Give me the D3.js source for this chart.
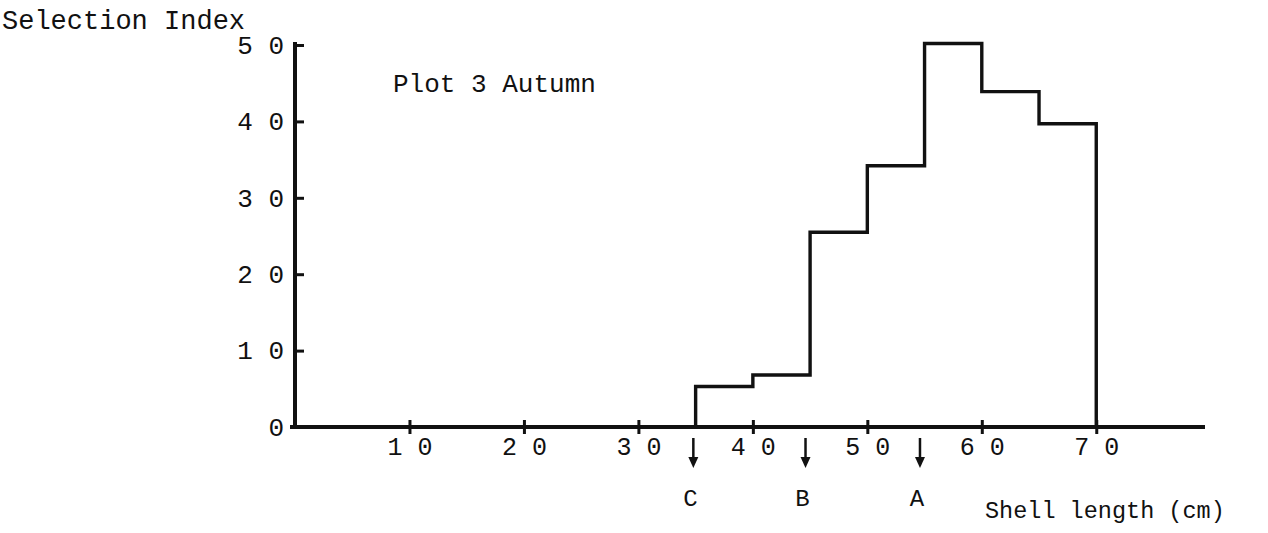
<!DOCTYPE html>
<html>
<head>
<meta charset="utf-8">
<script src="https://cdn.jsdelivr.net/npm/d3@7"></script>
<style>
  html, body { margin: 0; padding: 0; background: #fff; }
  svg { display: block; }
  text { font-family: "Liberation Mono", "DejaVu Sans Mono", monospace; fill: #111; }
</style>
</head>
<body>
<svg id="chart" width="1268" height="533"></svg>
<script>
// ---- data ----
const binEdges = [35, 40, 45, 50, 55, 60, 65, 70];
const selectionIndex = [5.3, 6.8, 25.5, 34.2, 50.2, 43.9, 39.7];
const xTickValues = [10, 20, 30, 40, 50, 60, 70];
const xTickLabels = ["1 0", "2 0", "3 0", "4 0", "5 0", "6 0", "7 0"];
const yTickValues = [0, 10, 20, 30, 40, 50];
const yTickLabels = ["0", "1 0", "2 0", "3 0", "4 0", "5 0"];
const markerPositions = [34.8, 44.6, 54.6];
const markerLabels = ["C", "B", "A"];

const svg = d3.select("#chart");
const ink = "#111";

const x = d3.scaleLinear().domain([0, 79.5]).range([295, 1205]);
const y = d3.scaleLinear().domain([0, 50]).range([427, 45]);

// ---- x axis ----
const xAxis = d3.axisBottom(x)
  .tickValues(xTickValues)
  .tickFormat((d, i) => xTickLabels[i])
  .tickSizeOuter(0)
  .tickSize(7)
  .tickPadding(3);
const gx = svg.append("g").attr("transform", `translate(0,${y(0)})`).call(xAxis);
gx.select(".domain").attr("stroke", ink).attr("stroke-width", 4)
  .attr("d", `M${x(0) - 5},0H${x(79.5)}`);
gx.selectAll(".tick line").attr("stroke", ink).attr("stroke-width", 3)
  .attr("y1", -7).attr("y2", 7);
gx.selectAll(".tick text").attr("font-size", 25).attr("fill", ink)
  .attr("font-family", "Liberation Mono, monospace");

// ---- y axis ----
const yAxis = d3.axisLeft(y)
  .tickValues(yTickValues)
  .tickFormat((d, i) => yTickLabels[i])
  .tickSizeOuter(0)
  .tickSize(-9)
  .tickPadding(11);
const gy = svg.append("g").attr("transform", `translate(${x(0)},0)`).call(yAxis);
gy.select(".domain").attr("stroke", ink).attr("stroke-width", 4)
  .attr("d", `M0,${y(50) - 3}V${y(0) + 2}`);
gy.selectAll(".tick line").attr("stroke", ink).attr("stroke-width", 3);
gy.selectAll(".tick text").attr("font-size", 26).attr("fill", ink)
  .attr("font-family", "Liberation Mono, monospace");

// ---- histogram step outline ----
const pts = [[binEdges[0], 0]];
selectionIndex.forEach((v, i) => {
  pts.push([binEdges[i], v]);
  pts.push([binEdges[i + 1], v]);
});
pts.push([binEdges[binEdges.length - 1], 0]);
const line = d3.line().x(d => x(d[0])).y(d => y(d[1]));
svg.append("path").attr("d", line(pts))
  .attr("fill", "none").attr("stroke", ink).attr("stroke-width", 3.4)
  .attr("stroke-linejoin", "miter");

// ---- marker arrows ----
const mk = svg.append("g");
markerPositions.forEach((m, i) => {
  const cx = x(m);
  mk.append("line").attr("x1", cx).attr("x2", cx)
    .attr("y1", y(0) + 11).attr("y2", y(0) + 32)
    .attr("stroke", ink).attr("stroke-width", 2.5);
  mk.append("path")
    .attr("d", `M${cx - 5},${y(0) + 30}L${cx + 5},${y(0) + 30}L${cx},${y(0) + 41}Z`)
    .attr("fill", ink);
  mk.append("text").attr("x", cx - 3).attr("y", y(0) + 79)
    .attr("text-anchor", "middle").attr("font-size", 24).text(markerLabels[i]);
});

// ---- titles ----
svg.append("text").attr("x", 2).attr("y", 29).attr("font-size", 27)
  .text("Selection Index");
svg.append("text").attr("x", 393).attr("y", 92).attr("font-size", 26)
  .text("Plot 3 Autumn");
svg.append("text").attr("x", 985).attr("y", 518).attr("font-size", 23.5)
  .text("Shell length (cm)");
</script>
</body>
</html>
